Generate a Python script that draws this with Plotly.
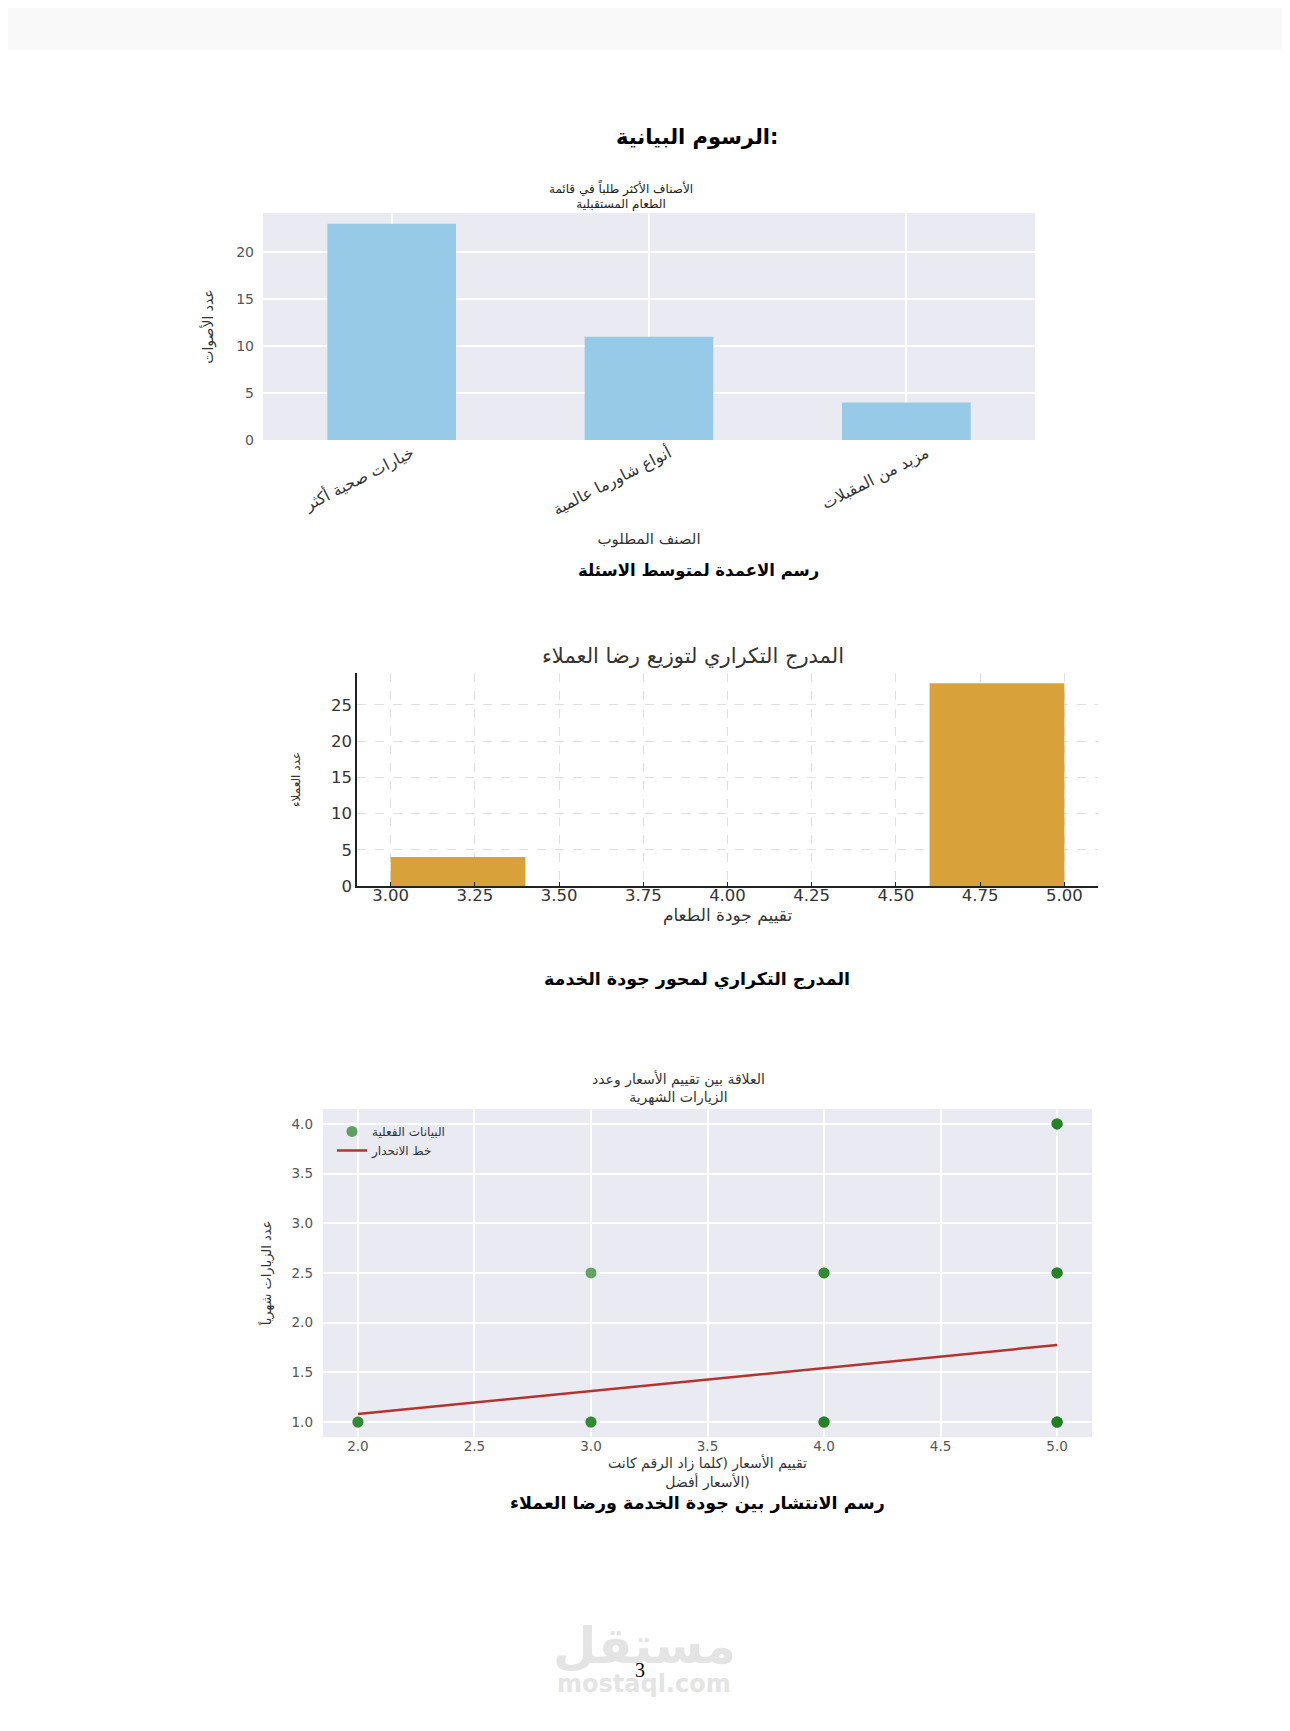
import plotly.graph_objects as go

# The page body has an 8px default margin; the figure is sized so the whole
# page fits inside the 1290x1731 window. Coordinates below are target pixels
# in the photographed picture (which comes out very slightly squeezed
# vertically, factor SY).
OFF = 8
SY = 0.9942
W, H = 1290 - 2 * OFF, 1705


def px(x):
    return (x - OFF) / W


def py(y):
    return 1 - (y / SY - OFF) / H


# ---------------- data ----------------
# Chart 1: most requested categories
cat_labels = ["خيارات صحية أكثر", "أنواع شاورما عالمية", "مزيد من المقبلات"]
cat_votes = [23, 11, 4]

# Chart 2: histogram of food-quality rating
bin_left = [3.0, 3.4, 3.8, 4.2, 4.6]
bin_width = 0.4
bin_counts = [4, 0, 0, 0, 28]
hist_ticks = [3.00, 3.25, 3.50, 3.75, 4.00, 4.25, 4.50, 4.75, 5.00]

# Chart 3: price rating vs monthly visits
price_rating = [2, 2, 3, 3, 3, 4, 4, 4, 4, 4, 5, 5, 5, 5, 5, 5, 5, 5, 5, 5]
monthly_visits = [1, 1, 2.5, 1, 1, 2.5, 2.5, 1, 1, 1, 4, 4, 4, 2.5, 2.5, 2.5, 1, 1, 1, 1]
reg_x = [2, 5]
reg_y = [1.08, 1.775]

FONT = "DejaVu Sans"
SEA_BG = "#EAEAF2"

fig = go.Figure()

fig.add_trace(go.Bar(
    x=cat_labels, y=cat_votes, width=0.5,
    marker=dict(color="#97CAE6", line=dict(width=0)),
    xaxis="x", yaxis="y", showlegend=False,
))

fig.add_trace(go.Bar(
    x=bin_left, y=bin_counts, width=bin_width, offset=0,
    marker=dict(color="#D9A13A", line=dict(width=0)),
    xaxis="x2", yaxis="y2", showlegend=False,
))

fig.add_trace(go.Scatter(
    x=price_rating, y=monthly_visits, mode="markers",
    marker=dict(color="rgba(30,125,30,0.68)", size=11, line=dict(width=0)),
    name="البيانات الفعلية", xaxis="x3", yaxis="y3",
))
fig.add_trace(go.Scatter(
    x=reg_x, y=reg_y, mode="lines",
    line=dict(color="#B5332E", width=2.5),
    name="خط الانحدار", xaxis="x3", yaxis="y3",
))

sea_grid = dict(showgrid=True, gridcolor="white", gridwidth=1.5, zeroline=False,
                showline=False, ticks="")

fig.update_layout(
    width=W, height=H,
    margin=dict(l=0, r=0, t=0, b=0),
    paper_bgcolor="white",
    plot_bgcolor=SEA_BG,
    font=dict(family=FONT, color="#333"),
    showlegend=True,
    legend=dict(x=px(332), y=py(1117), xanchor="left", yanchor="top",
                bgcolor="rgba(0,0,0,0)", font=dict(size=12, color="#333"),
                tracegroupgap=0, itemwidth=30),
    # chart 1
    xaxis=dict(domain=[px(263), px(1035)], anchor="y", type="category",
               range=[-0.5, 2.5], tickangle=-27, ticklabelshift=20,
               tickfont=dict(size=16, color="#333"),
               title=dict(text="الصنف المطلوب", font=dict(size=15, color="#333"), standoff=14),
               **sea_grid),
    yaxis=dict(domain=[py(440), py(213)], anchor="x", range=[0, 24.15],
               tickvals=[0, 5, 10, 15, 20], tickfont=dict(size=14, color="#555"),
               ticklabelstandoff=8,
               title=dict(text="عدد الأصوات", font=dict(size=14, color="#333"), standoff=19),
               **sea_grid),
    # chart 2
    xaxis2=dict(domain=[px(357), px(1098)], anchor="y2", range=[2.9, 5.1],
                tickvals=hist_ticks, tickformat=".2f",
                showgrid=True, gridcolor="#e0e0e0", griddash="dash", gridwidth=1,
                zeroline=False, showline=True, linecolor="#222", linewidth=1.5,
                ticks="inside", ticklen=4, tickcolor="#222",
                tickfont=dict(size=16.5, color="#333"), ticklabelstandoff=-7,
                title=dict(text="تقييم جودة الطعام", font=dict(size=17, color="#333"), standoff=0)),
    yaxis2=dict(domain=[py(886), py(673)], anchor="x2", range=[0, 29.4],
                tickvals=[0, 5, 10, 15, 20, 25],
                showgrid=True, gridcolor="#e0e0e0", griddash="dash", gridwidth=1,
                zeroline=False, showline=True, linecolor="#222", linewidth=1.5,
                ticks="", tickfont=dict(size=16.5, color="#333"),
                title=dict(text="عدد العملاء", font=dict(size=12, color="#333"), standoff=28)),
    # chart 3
    xaxis3=dict(domain=[px(323), px(1092)], anchor="y3", range=[1.85, 5.15],
                dtick=0.5, tick0=0, tickformat=".1f",
                tickfont=dict(size=13.5, color="#555"),
                title=dict(text="تقييم الأسعار (كلما زاد الرقم كانت<br>الأسعار أفضل)",
                           font=dict(size=14, color="#333"), standoff=4),
                **sea_grid),
    yaxis3=dict(domain=[py(1437), py(1109)], anchor="x3", range=[0.85, 4.15],
                dtick=0.5, tick0=0, tickformat=".1f",
                tickfont=dict(size=13.5, color="#555"), ticklabelstandoff=9,
                title=dict(text="عدد الزيارات شهرياً", font=dict(size=13, color="#333"), standoff=16),
                **sea_grid),
)

fig.add_shape(type="rect", xref="paper", yref="paper", x0=0, x1=1, y0=py(50), y1=1,
              fillcolor="#f9f9f9", line=dict(width=0), layer="below")
fig.add_shape(type="rect", xref="x2 domain", yref="y2 domain", x0=0, x1=1, y0=0, y1=1,
              fillcolor="white", line=dict(width=0), layer="below")


def note(text, x, y, size, color="#000", weight="normal", family=FONT):
    fig.add_annotation(text=text, x=px(x), y=py(y), xref="paper", yref="paper",
                       xanchor="center", yanchor="middle", showarrow=False,
                       font=dict(size=size, color=color, family=family, weight=weight))


note("الرسوم البيانية:", 697, 137, 21, weight="bold")
note("الأصناف الأكثر طلباً في قائمة<br>الطعام المستقبلية", 621, 195, 12, color="#222")
note("رسم الاعمدة لمتوسط الاسئلة", 699, 571, 16.5, weight="bold")
note("المدرج التكراري لتوزيع رضا العملاء", 693, 656, 21, color="#333")
note("المدرج التكراري لمحور جودة الخدمة", 697, 980, 17.5, weight="bold")
note("العلاقة بين تقييم الأسعار وعدد<br>الزيارات الشهرية", 678, 1088, 14, color="#333")
note("رسم الانتشار بين جودة الخدمة ورضا العملاء", 697, 1504, 17.5, weight="bold")
note("مستقل", 644, 1646, 50, color="#e4e4e4", weight="bold")
note("mostaql.com", 644, 1684, 24, color="#e4e4e4", weight="bold")
note("3", 640, 1670, 20, family="Liberation Serif")

fig.write_html("out.html")
